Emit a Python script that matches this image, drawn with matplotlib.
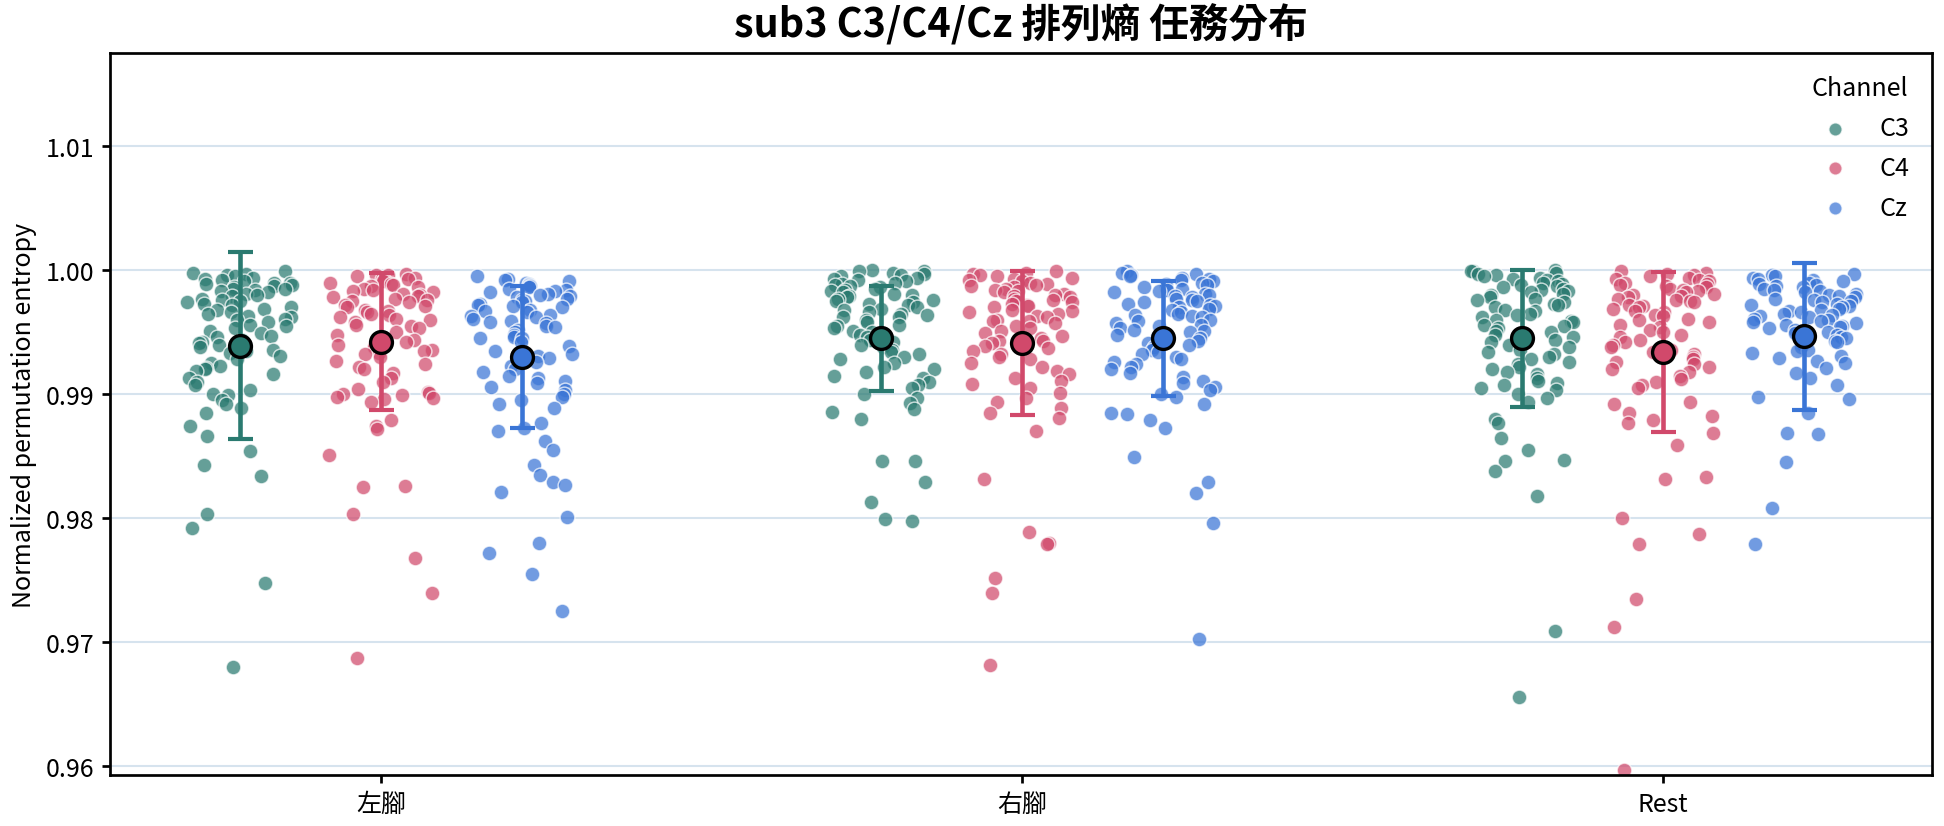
import matplotlib
matplotlib.use("Agg")
import matplotlib.pyplot as plt
import numpy as np

plt.rcParams['font.family'] = ['Noto Sans CJK TC', 'DejaVu Sans']

# tasks / channels
tasks = ['左腳', '右腳', 'Rest']
channels = ['C3', 'C4', 'Cz']
colors = {'C3': '#2a7a70', 'C4': '#d1496b', 'Cz': '#3a75d6'}

# normalized permutation entropy per trial
lf_c3 = [0.9999, 0.9998, 0.9997, 0.9996, 0.9995, 0.9994, 0.9993, 0.9992, 0.9991, 0.9990, 0.9990, 0.9989, 0.9988,
         0.9987, 0.9986, 0.9985, 0.9985, 0.9984, 0.9983, 0.9982, 0.9981, 0.9980, 0.9979, 0.9977, 0.9976, 0.9975,
         0.9974, 0.9973, 0.9972, 0.9970, 0.9969, 0.9968, 0.9966, 0.9965, 0.9963, 0.9962, 0.9961, 0.9960, 0.9958,
         0.9956, 0.9955, 0.9953, 0.9951, 0.9949, 0.9947, 0.9946, 0.9944, 0.9942, 0.9941, 0.9940, 0.9938, 0.9936,
         0.9935, 0.9933, 0.9931, 0.9928, 0.9925, 0.9923, 0.9921, 0.9920, 0.9919, 0.9916, 0.9913, 0.9910, 0.9907,
         0.9903, 0.9900, 0.9899, 0.9895, 0.9892, 0.9889, 0.9885, 0.9874, 0.9866, 0.9854, 0.9843, 0.9834, 0.9803,
         0.9792, 0.9748, 0.9680]
lf_c4 = [0.9997, 0.9996, 0.9996, 0.9995, 0.9994, 0.9993, 0.9993, 0.9992, 0.9991, 0.9990, 0.9989, 0.9988, 0.9987,
         0.9986, 0.9985, 0.9984, 0.9983, 0.9982, 0.9981, 0.9980, 0.9979, 0.9978, 0.9977, 0.9976, 0.9975, 0.9974,
         0.9972, 0.9971, 0.9970, 0.9968, 0.9967, 0.9966, 0.9965, 0.9964, 0.9962, 0.9961, 0.9960, 0.9958, 0.9956,
         0.9955, 0.9953, 0.9950, 0.9948, 0.9946, 0.9944, 0.9942, 0.9940, 0.9938, 0.9936, 0.9935, 0.9933, 0.9932,
         0.9930, 0.9927, 0.9924, 0.9922, 0.9920, 0.9917, 0.9913, 0.9910, 0.9904, 0.9902, 0.9901, 0.9900, 0.9899,
         0.9898, 0.9897, 0.9896, 0.9894, 0.9879, 0.9874, 0.9872, 0.9851, 0.9826, 0.9825, 0.9803, 0.9768, 0.9740,
         0.9687]
lf_cz = [0.9995, 0.9993, 0.9992, 0.9991, 0.9990, 0.9989, 0.9988, 0.9987, 0.9986, 0.9985, 0.9984, 0.9983, 0.9982,
         0.9981, 0.9980, 0.9979, 0.9978, 0.9977, 0.9976, 0.9975, 0.9974, 0.9973, 0.9972, 0.9971, 0.9970, 0.9968,
         0.9967, 0.9966, 0.9964, 0.9963, 0.9962, 0.9961, 0.9959, 0.9958, 0.9957, 0.9955, 0.9954, 0.9952, 0.9950,
         0.9948, 0.9946, 0.9945, 0.9945, 0.9942, 0.9939, 0.9935, 0.9932, 0.9931, 0.9929, 0.9926, 0.9923, 0.9920,
         0.9918, 0.9915, 0.9913, 0.9911, 0.9909, 0.9906, 0.9903, 0.9900, 0.9898, 0.9895, 0.9892, 0.9889, 0.9877,
         0.9873, 0.9870, 0.9862, 0.9855, 0.9843, 0.9835, 0.9829, 0.9827, 0.9821, 0.9801, 0.9780, 0.9772, 0.9755,
         0.9725]
rf_c3 = [1.0000, 0.9999, 0.9999, 0.9998, 0.9997, 0.9996, 0.9995, 0.9994, 0.9993, 0.9992, 0.9991, 0.9990, 0.9989,
         0.9988, 0.9987, 0.9986, 0.9985, 0.9984, 0.9983, 0.9982, 0.9981, 0.9980, 0.9979, 0.9978, 0.9977, 0.9976,
         0.9975, 0.9974, 0.9973, 0.9972, 0.9970, 0.9969, 0.9968, 0.9966, 0.9965, 0.9964, 0.9962, 0.9962, 0.9960,
         0.9958, 0.9956, 0.9955, 0.9953, 0.9951, 0.9950, 0.9948, 0.9946, 0.9944, 0.9942, 0.9940, 0.9938, 0.9936,
         0.9934, 0.9932, 0.9930, 0.9928, 0.9925, 0.9922, 0.9920, 0.9918, 0.9915, 0.9913, 0.9910, 0.9907, 0.9905,
         0.9900, 0.9897, 0.9893, 0.9888, 0.9886, 0.9880, 0.9846, 0.9846, 0.9829, 0.9813, 0.9799, 0.9798]
rf_c4 = [0.9999, 0.9998, 0.9997, 0.9996, 0.9995, 0.9994, 0.9993, 0.9992, 0.9991, 0.9990, 0.9989, 0.9988, 0.9987,
         0.9986, 0.9985, 0.9984, 0.9983, 0.9982, 0.9981, 0.9980, 0.9979, 0.9978, 0.9977, 0.9976, 0.9975, 0.9974,
         0.9973, 0.9972, 0.9971, 0.9970, 0.9968, 0.9967, 0.9966, 0.9965, 0.9963, 0.9962, 0.9960, 0.9959, 0.9959,
         0.9957, 0.9955, 0.9953, 0.9951, 0.9949, 0.9947, 0.9945, 0.9943, 0.9943, 0.9941, 0.9939, 0.9937, 0.9935,
         0.9932, 0.9930, 0.9928, 0.9925, 0.9922, 0.9919, 0.9916, 0.9913, 0.9911, 0.9908, 0.9905, 0.9901, 0.9897,
         0.9894, 0.9889, 0.9885, 0.9881, 0.9870, 0.9832, 0.9789, 0.9780, 0.9779, 0.9752, 0.9740, 0.9682]
rf_cz = [0.9999, 0.9998, 0.9997, 0.9996, 0.9995, 0.9994, 0.9993, 0.9992, 0.9991, 0.9990, 0.9989, 0.9988, 0.9987,
         0.9986, 0.9985, 0.9984, 0.9983, 0.9982, 0.9981, 0.9980, 0.9979, 0.9978, 0.9977, 0.9976, 0.9975, 0.9974,
         0.9973, 0.9972, 0.9971, 0.9970, 0.9969, 0.9968, 0.9966, 0.9965, 0.9964, 0.9963, 0.9962, 0.9960, 0.9959,
         0.9957, 0.9956, 0.9955, 0.9953, 0.9952, 0.9951, 0.9950, 0.9948, 0.9946, 0.9945, 0.9943, 0.9941, 0.9940,
         0.9938, 0.9936, 0.9934, 0.9932, 0.9930, 0.9928, 0.9926, 0.9924, 0.9922, 0.9920, 0.9917, 0.9914, 0.9911,
         0.9909, 0.9906, 0.9903, 0.9900, 0.9898, 0.9892, 0.9885, 0.9884, 0.9879, 0.9873, 0.9849, 0.9829, 0.9820,
         0.9796, 0.9703]
rs_c3 = [1.0000, 0.9999, 0.9999, 0.9998, 0.9997, 0.9996, 0.9995, 0.9994, 0.9993, 0.9992, 0.9991, 0.9990, 0.9989,
         0.9988, 0.9987, 0.9986, 0.9985, 0.9984, 0.9983, 0.9982, 0.9981, 0.9980, 0.9978, 0.9977, 0.9976, 0.9974,
         0.9973, 0.9972, 0.9970, 0.9968, 0.9967, 0.9965, 0.9964, 0.9962, 0.9960, 0.9959, 0.9958, 0.9956, 0.9955,
         0.9953, 0.9951, 0.9950, 0.9948, 0.9946, 0.9944, 0.9942, 0.9940, 0.9938, 0.9936, 0.9934, 0.9932, 0.9930,
         0.9928, 0.9926, 0.9924, 0.9922, 0.9920, 0.9918, 0.9916, 0.9913, 0.9911, 0.9909, 0.9907, 0.9905, 0.9903,
         0.9900, 0.9897, 0.9894, 0.9880, 0.9877, 0.9865, 0.9855, 0.9847, 0.9846, 0.9838, 0.9818, 0.9709, 0.9656]
rs_c4 = [0.9999, 0.9998, 0.9997, 0.9996, 0.9995, 0.9994, 0.9993, 0.9992, 0.9991, 0.9990, 0.9989, 0.9988, 0.9987,
         0.9986, 0.9985, 0.9984, 0.9983, 0.9982, 0.9981, 0.9980, 0.9979, 0.9978, 0.9977, 0.9976, 0.9975, 0.9974,
         0.9972, 0.9971, 0.9970, 0.9969, 0.9967, 0.9966, 0.9964, 0.9963, 0.9961, 0.9960, 0.9958, 0.9956, 0.9954,
         0.9952, 0.9950, 0.9948, 0.9946, 0.9944, 0.9942, 0.9940, 0.9938, 0.9936, 0.9934, 0.9932, 0.9930, 0.9928,
         0.9926, 0.9924, 0.9922, 0.9920, 0.9918, 0.9915, 0.9912, 0.9910, 0.9907, 0.9905, 0.9894, 0.9892, 0.9885,
         0.9882, 0.9879, 0.9877, 0.9869, 0.9859, 0.9833, 0.9832, 0.9800, 0.9787, 0.9779, 0.9735, 0.9712, 0.9597]
rs_cz = [0.9997, 0.9996, 0.9995, 0.9994, 0.9993, 0.9992, 0.9991, 0.9990, 0.9989, 0.9988, 0.9987, 0.9986, 0.9985,
         0.9984, 0.9983, 0.9982, 0.9981, 0.9980, 0.9979, 0.9978, 0.9977, 0.9976, 0.9975, 0.9974, 0.9973, 0.9972,
         0.9971, 0.9970, 0.9969, 0.9968, 0.9967, 0.9966, 0.9965, 0.9964, 0.9963, 0.9962, 0.9961, 0.9960, 0.9959,
         0.9958, 0.9957, 0.9956, 0.9955, 0.9954, 0.9953, 0.9952, 0.9950, 0.9949, 0.9948, 0.9946, 0.9945, 0.9943,
         0.9942, 0.9940, 0.9938, 0.9936, 0.9935, 0.9933, 0.9931, 0.9929, 0.9927, 0.9925, 0.9921, 0.9917, 0.9913,
         0.9907, 0.9898, 0.9896, 0.9885, 0.9869, 0.9868, 0.9845, 0.9808, 0.9779]

# mean and SD shown by the error bars
means = [[0.99392, 0.99422, 0.99301],
         [0.99449, 0.99414, 0.99449],
         [0.99449, 0.99339, 0.99465]]
sds = [[0.00754, 0.00551, 0.00573],
       [0.00420, 0.00582, 0.00467],
       [0.00553, 0.00643, 0.00589]]

data = [[lf_c3, lf_c4, lf_cz], [rf_c3, rf_c4, rf_cz], [rs_c3, rs_c4, rs_cz]]

fig = plt.figure(figsize=(12.96, 5.513), dpi=150)
ax = fig.add_axes([0.0566, 0.0617, 0.9372, 0.873])

offsets = [-0.22, 0.0, 0.22]
for i, task in enumerate(tasks):
    for j, ch in enumerate(channels):
        vals = np.array(data[i][j])
        k = np.arange(len(vals))
        # strip jitter (deterministic hash so the file gives the same picture each run)
        frac = (np.sin((k + 1) * 12.9898 + (i * 3 + j) * 78.233) * 43758.5453) % 1.0
        x = i + offsets[j] + (frac - 0.5) * 0.165
        ax.scatter(x, vals, s=50, color=colors[ch], alpha=0.72, edgecolor='white',
                   linewidth=0.7, zorder=2, label=ch if i == 0 else None)
        ax.errorbar(i + offsets[j], means[i][j], yerr=sds[i][j], fmt='none',
                    ecolor=colors[ch], elinewidth=2.2, capsize=6, capthick=2.0, zorder=3)
        ax.plot(i + offsets[j], means[i][j], 'o', ms=10.5, mfc=colors[ch], mec='black',
                mew=1.6, zorder=4)

ax.set_xlim(-0.423, 2.42)
ax.set_ylim(0.9593, 1.0175)
ax.set_xticks(range(len(tasks)))
ax.set_xticklabels(tasks, fontsize=12)
ax.set_yticks([0.96, 0.97, 0.98, 0.99, 1.00, 1.01])
ax.set_yticklabels(['0.96', '0.97', '0.98', '0.99', '1.00', '1.01'], fontsize=12)
ax.yaxis.grid(True, color='#d6e3ee', linewidth=1.0, zorder=0)
ax.set_axisbelow(True)
for sp in ax.spines.values():
    sp.set_linewidth(1.3)
ax.tick_params(width=1.3, length=4)

ax.set_ylabel('Normalized permutation entropy', fontsize=12)
ax.set_title('sub3 C3/C4/Cz 排列熵 任務分布', fontsize=19, fontweight='bold', pad=8)

leg = ax.legend(title='Channel', loc='upper right', frameon=False, fontsize=12,
                title_fontsize=12, markerscale=0.9, labelspacing=0.55)

fig.savefig('out.png', dpi=150)
